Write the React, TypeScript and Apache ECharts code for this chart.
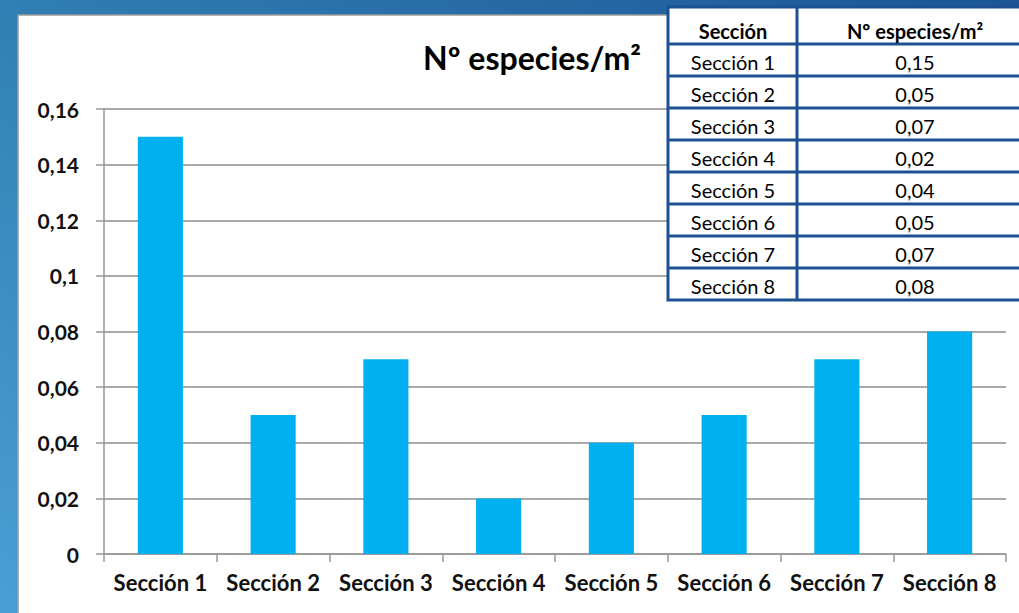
import React, { useEffect, useRef } from "react";
import * as echarts from "echarts";

const categories = ["Sección 1", "Sección 2", "Sección 3", "Sección 4", "Sección 5", "Sección 6", "Sección 7", "Sección 8"];
const values = [0.15, 0.05, 0.07, 0.02, 0.04, 0.05, 0.07, 0.08];
const yMin = 0;
const yMax = 0.16;
const yStep = 0.02;
const chartTitle = "Nº especies/m²";
const tableHeader = ["Sección", "Nº especies/m²"];

const fmt = (v: number) => parseFloat(v.toFixed(2)).toString().replace(".", ",");

export default function App() {
  const ref = useRef<HTMLDivElement>(null);
  useEffect(() => {
    if (!ref.current) return;
    const chart = echarts.init(ref.current, undefined, { renderer: "svg" });
    const font = "Lato";
    const border = "#1c5291";
    const tX = 668, tY = 7, tW = 370, headH = 37, rowH = 32;
    const midX = 797;
    const c1 = 733, c2 = 915;
    const tH = headH + rowH * categories.length;
    const tableEls: any[] = [];
    tableEls.push({ type: "rect", shape: { x: tX, y: tY, width: tW, height: tH }, style: { fill: "#fff", stroke: border, lineWidth: 3 }, z: 100 });
    for (let i = 0; i < categories.length; i++) {
      const y = tY + headH + rowH * i;
      tableEls.push({ type: "line", shape: { x1: tX, y1: y, x2: tX + tW, y2: y }, style: { stroke: border, lineWidth: 3 }, z: 101 });
    }
    tableEls.push({ type: "line", shape: { x1: midX, y1: tY, x2: midX, y2: tY + tH }, style: { stroke: border, lineWidth: 3 }, z: 101 });
    tableEls.push({ type: "text", x: c1, y: tY + headH / 2 + 5, style: { text: tableHeader[0], fill: "#000", font: `bold 20px ${font}`, textAlign: "center", textVerticalAlign: "middle" }, z: 102 });
    tableEls.push({ type: "text", x: c2, y: tY + headH / 2 + 5, style: { text: tableHeader[1], fill: "#000", font: `bold 20px ${font}`, textAlign: "center", textVerticalAlign: "middle" }, z: 102 });
    categories.forEach((c, i) => {
      const yc = tY + headH + rowH * i + rowH / 2 + 2;
      tableEls.push({ type: "text", x: c1, y: yc, style: { text: c, fill: "#000", font: `20px ${font}`, textAlign: "center", textVerticalAlign: "middle" }, z: 102 });
      tableEls.push({ type: "text", x: c2, y: yc, style: { text: fmt(values[i]), fill: "#000", font: `20px ${font}`, textAlign: "center", textVerticalAlign: "middle" }, z: 102 });
    });

    chart.setOption({
      animation: false,
      title: {
        text: chartTitle,
        left: 527,
        top: 36,
        textAlign: "center",
        textStyle: { fontFamily: font, fontWeight: "bold", fontSize: 32, color: "#000" },
        z: 5,
      },
      graphic: [
        {
          type: "rect",
          z: -10,
          shape: { x: 0, y: 0, width: 1019, height: 613 },
          style: {
            fill: new echarts.graphic.LinearGradient(0, 1, 1, 0, [
              { offset: 0, color: "#4a9fd6" },
              { offset: 0.4, color: "#3587b9" },
              { offset: 1, color: "#1b5597" },
            ]),
          },
        },
        {
          type: "rect",
          z: -9,
          shape: { x: 18, y: 15, width: 1010, height: 610 },
          style: { fill: "#ffffff", stroke: "#9a9a9a", lineWidth: 1.5 },
        },
        ...tableEls,
      ],
      grid: { left: 104, right: 13, top: 109, bottom: 59 },
      xAxis: {
        type: "category",
        data: categories,
        axisLine: { show: true, lineStyle: { color: "#999", width: 1.5 } },
        axisTick: { show: true, length: 8, interval: 0, lineStyle: { color: "#999", width: 1.5 } },
        axisLabel: { interval: 0, margin: 17, fontFamily: font, fontWeight: "bold", fontSize: 22, color: "#111" },
      },
      yAxis: {
        type: "value",
        min: yMin,
        max: yMax,
        interval: yStep,
        axisLine: { show: true, lineStyle: { color: "#999", width: 1.5 } },
        axisTick: { show: true, length: 8, lineStyle: { color: "#999", width: 1.5 } },
        axisLabel: { margin: 25, fontFamily: font, fontWeight: "bold", fontSize: 21, color: "#111", formatter: (v: number) => fmt(v) },
        splitLine: { show: true, lineStyle: { color: "#8c8c8c", width: 1.5 } },
      },
      series: [
        {
          type: "bar",
          data: values,
          barWidth: "40%",
          itemStyle: { color: "#00b0f0" },
        },
      ],
    });
    return () => chart.dispose();
  }, []);
  return <div ref={ref} style={{ position: "absolute", left: 0, top: 0, width: 1019, height: 613 }} />;
}
